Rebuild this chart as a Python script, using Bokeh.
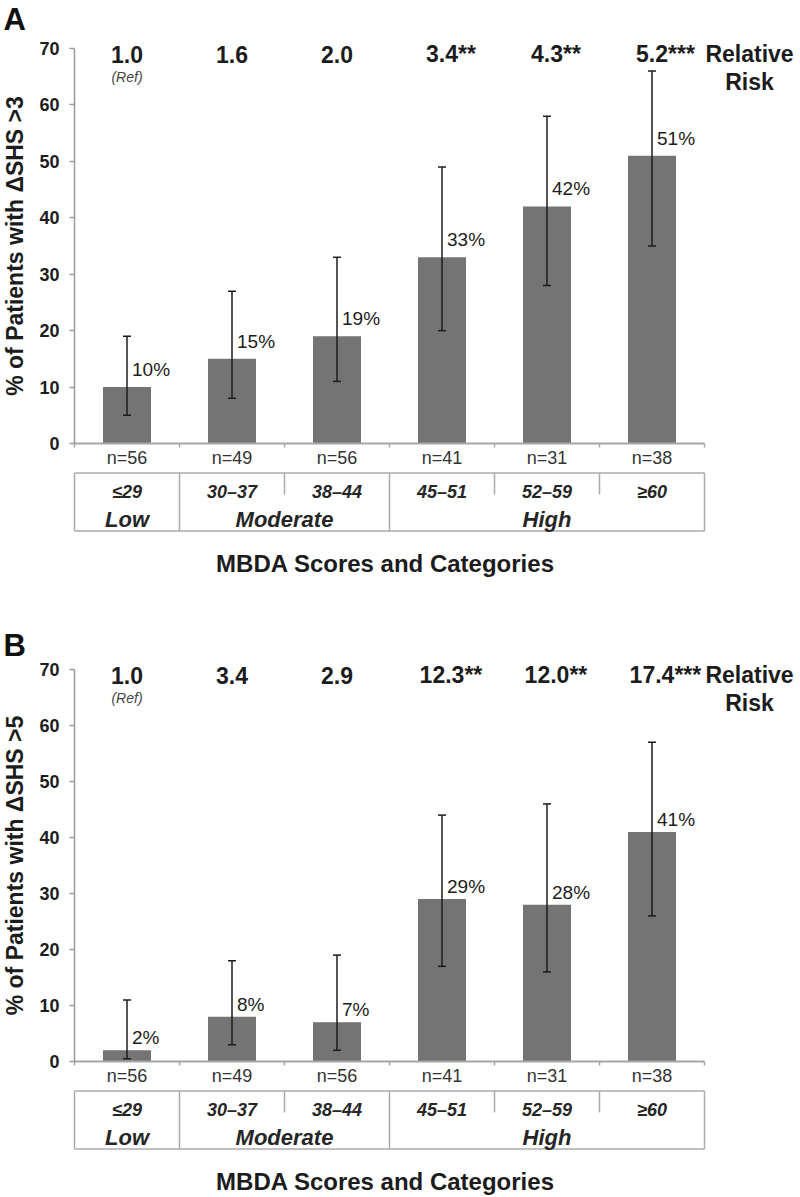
import math
from bokeh.plotting import figure
from bokeh.models import ColumnDataSource, FixedTicker, Range1d
from bokeh.layouts import column
from bokeh.embed import file_html
from bokeh.resources import INLINE
from bokeh.core.properties import value

# ---------------- data ----------------
score_ranges = ["≤29", "30–37", "38–44", "45–51", "52–59", "≥60"]
n_labels = ["n=56", "n=49", "n=56", "n=41", "n=31", "n=38"]
risk_groups = ["Low", "Moderate", "High"]
risk_group_first = [0, 1, 3]   # first category index of each group
risk_group_last = [1, 3, 6]    # one past the last category index
y_ticks = [0, 10, 20, 30, 40, 50, 60, 70]

pct_a = [10, 15, 19, 33, 42, 51]
lo_a = [5, 8, 11, 20, 28, 35]
hi_a = [19, 27, 33, 49, 58, 66]
rr_a = ["1.0", "1.6", "2.0", "3.4", "4.3", "5.2"]
sig_a = ["", "", "", "**", "**", "***"]

pct_b = [2, 8, 7, 29, 28, 41]
lo_b = [0.5, 3, 2, 17, 16, 26]
hi_b = [11, 18, 19, 44, 46, 57]
rr_b = ["1.0", "3.4", "2.9", "12.3", "12.0", "17.4"]
sig_b = ["", "", "", "**", "**", "***"]

FONT = "Liberation Sans"
DARK = "#1c1c1c"
BAR = "#747474"
GRID = "#ababab"

CAT_PX = 105.0      # pixels per category
LEFT_PX = 74        # pixels from figure left to the y axis
FIG_W = 796


def num_width_em(txt):
    w = 0.0
    for ch in txt:
        w += 0.278 if ch == "." else 0.556
    return w


def make_panel(letter, ylabel, pct, lo, hi, rr, sig, height, top_px, s, lab_off_px):
    bottom_px = height - top_px
    px = lambda d: d / CAT_PX          # horizontal pixels -> data
    py = lambda d: d / s               # vertical pixels -> data
    p = figure(width=FIG_W, height=height,
               x_range=Range1d(-px(LEFT_PX), px(FIG_W - LEFT_PX)),
               y_range=Range1d(-py(bottom_px), py(top_px)),
               output_backend="svg", toolbar_location=None,
               x_axis_location=None,
               min_border_left=0, min_border_right=0,
               min_border_top=0, min_border_bottom=0)
    p.outline_line_color = None
    p.xgrid.grid_line_color = None
    p.ygrid.grid_line_color = None
    p.background_fill_color = "white"

    ya = p.yaxis[0]
    ya.fixed_location = 0
    ya.bounds = (0, 70)
    ya.ticker = FixedTicker(ticks=y_ticks)
    ya.minor_tick_line_color = None
    ya.major_tick_in = 0
    ya.major_tick_out = 5
    ya.axis_line_color = "#9a9a9a"
    ya.axis_line_width = 1.5
    ya.major_tick_line_color = "#9a9a9a"
    ya.major_tick_line_width = 1.5
    ya.major_label_text_font = FONT
    ya.major_label_text_font_style = "bold"
    ya.major_label_text_font_size = "18px"
    ya.major_label_text_color = DARK
    ya.major_label_standoff = 10

    # y axis title
    p.text(x=[-px(LEFT_PX - 14)], y=[35], text=[ylabel], angle=math.pi / 2,
           text_font=value(FONT), text_font_size="23px", text_font_style="bold",
           text_color=DARK, text_align="center", text_baseline="middle")

    n = len(pct)
    xs = [i + 0.5 for i in range(n)]
    cap = px(4)
    src = ColumnDataSource(dict(
        x=xs, top=pct, lo=lo, hi=hi,
        xl=[x - cap for x in xs], xr=[x + cap for x in xs],
        xt=[x + px(5) for x in xs],
        yt=[v + py(lab_off_px) for v in pct],
        plab=[f"{v}%" for v in pct],
    ))

    # bars
    p.vbar(x="x", top="top", bottom=0, width=px(48), source=src,
           fill_color=BAR, line_color=None)
    # error bars
    p.segment(x0="x", y0="lo", x1="x", y1="hi", source=src, line_color=DARK, line_width=1.5)
    p.segment(x0="xl", y0="hi", x1="xr", y1="hi", source=src, line_color=DARK, line_width=1.5)
    p.segment(x0="xl", y0="lo", x1="xr", y1="lo", source=src, line_color=DARK, line_width=1.5)
    # percentage labels
    p.text(x="xt", y="yt", text="plab", source=src, text_font=value(FONT),
           text_font_size="19px", text_color=DARK, text_align="left",
           text_baseline="middle")

    # x axis line and boundary ticks
    p.segment(x0=[0], y0=[0], x1=[n], y1=[0], line_color="#a6a6a6", line_width=2)
    bx = list(range(n + 1))
    p.segment(x0=bx, y0=[0] * (n + 1), x1=bx, y1=[-py(4)] * (n + 1),
              line_color="#a6a6a6", line_width=1.5)

    # n labels
    p.text(x=xs, y=[-py(14)] * n, text=n_labels, text_font=value(FONT),
           text_font_size="18px", text_color="#333333", text_align="center",
           text_baseline="middle")

    # table below the axis
    t_top, t_mid, t_bot = -py(29.5), -py(51), -py(87.5)
    p.segment(x0=[0, 0], y0=[t_top, t_bot], x1=[n, n], y1=[t_top, t_bot],
              line_color=GRID, line_width=1.5)
    full_x = [0] + risk_group_last
    p.segment(x0=full_x, y0=[t_top] * len(full_x), x1=full_x, y1=[t_bot] * len(full_x),
              line_color=GRID, line_width=1.5)
    part_x = [i for i in range(1, n) if i not in full_x]
    p.segment(x0=part_x, y0=[t_top] * len(part_x), x1=part_x, y1=[t_mid] * len(part_x),
              line_color=GRID, line_width=1.5)
    p.text(x=xs, y=[-py(48)] * n, text=score_ranges, text_font=value(FONT),
           text_font_size="18px", text_font_style="bold italic", text_color="#262626",
           text_align="center", text_baseline="middle")
    gx = [(a + b) / 2 for a, b in zip(risk_group_first, risk_group_last)]
    p.text(x=gx, y=[-py(75.5)] * len(gx), text=risk_groups, text_font=value(FONT),
           text_font_size="22px", text_font_style="bold italic", text_color="#262626",
           text_align="center", text_baseline="middle")

    # x title
    p.text(x=[px(385 - LEFT_PX)], y=[-py(120)], text=["MBDA Scores and Categories"],
           text_font=value(FONT), text_font_size="24px", text_font_style="bold",
           text_color=DARK, text_align="center", text_baseline="middle")

    # relative risk row
    rr_fs = 23
    rr_txt = [a + b for a, b in zip(rr, sig)]
    rr_x = [x - px(num_width_em(a) * rr_fs / 2) for x, a in zip(xs, rr)]
    p.text(x=rr_x, y=[69.0] * n, text=rr_txt, text_font=value(FONT),
           text_font_size=f"{rr_fs}px", text_font_style="bold", text_color=DARK,
           text_align="left", text_baseline="middle")
    p.text(x=[xs[0]], y=[65.0], text=["(Ref)"], text_font=value(FONT),
           text_font_size="14px", text_font_style="italic", text_color="#444444",
           text_align="center", text_baseline="middle")
    p.text(x=[px(749 - LEFT_PX)] * 2, y=[69.0, 64.0], text=["Relative", "Risk"],
           text_font=value(FONT), text_font_size=f"{rr_fs}px", text_font_style="bold",
           text_color=DARK, text_align="center", text_baseline="middle")

    # panel letter
    p.text(x=[-px(LEFT_PX - 3)], y=[py(top_px - 1)], text=[letter],
           text_font=value(FONT), text_font_size="31px", text_font_style="bold",
           text_color="#111111", text_align="left", text_baseline="top")
    return p


pa = make_panel("A", "% of Patients with ΔSHS >3", pct_a, lo_a, hi_a, rr_a, sig_a,
                height=626, top_px=443, s=5.643, lab_off_px=17.5)
pb = make_panel("B", "% of Patients with ΔSHS >5", pct_b, lo_b, hi_b, rr_b, sig_b,
                height=570, top_px=435, s=5.6, lab_off_px=12.5)

layout = column(pa, pb, spacing=0)
open("out.html", "w").write(file_html(layout, INLINE))
